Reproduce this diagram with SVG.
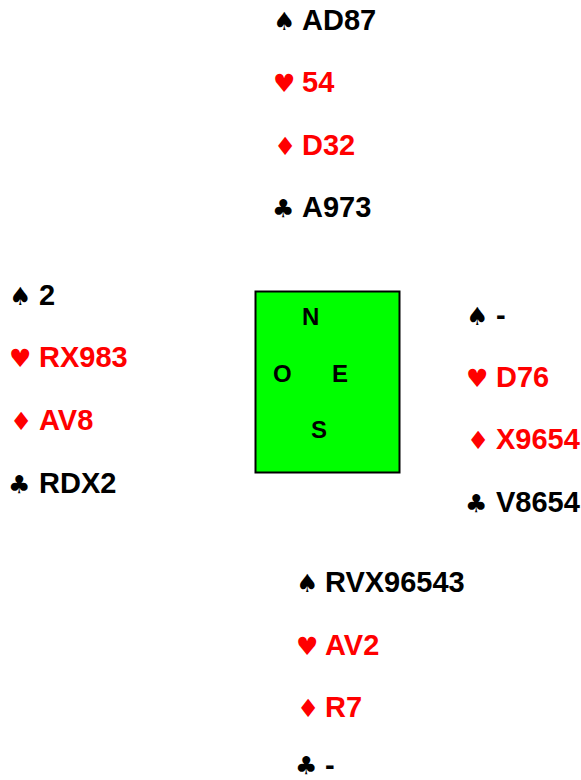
<svg xmlns="http://www.w3.org/2000/svg" width="581" height="780" viewBox="0 0 581 780">
<style>
.t{font-family:"Liberation Sans",Arial,sans-serif;font-weight:bold;font-size:29px}
.s{font-family:"DejaVu Sans",sans-serif;font-size:25px}
.b{fill:#000}
.r{fill:#ff0000}
.c{font-family:"Liberation Sans",Arial,sans-serif;font-weight:bold;font-size:24px;fill:#000}
</style>
<rect width="581" height="780" fill="#fff"/>
<g id="north">
<text class="s b" x="273" y="30">♠</text><text class="t b" x="302" y="30">AD87</text>
<text class="s r" x="273" y="92">♥</text><text class="t r" x="302" y="92">54</text>
<text class="s r" x="274" y="155">♦</text><text class="t r" x="302" y="155">D32</text>
<text class="s b" x="272" y="217">♣</text><text class="t b" x="302" y="217">A973</text>
</g>
<g id="west">
<text class="s b" x="9" y="305">♠</text><text class="t b" x="39" y="305">2</text>
<text class="s r" x="9" y="367">♥</text><text class="t r" x="39" y="367">RX983</text>
<text class="s r" x="10" y="430">♦</text><text class="t r" x="39" y="430">AV8</text>
<text class="s b" x="8" y="493">♣</text><text class="t b" x="39" y="493">RDX2</text>
</g>
<g id="east">
<text class="s b" x="466" y="325">♠</text><text class="t b" x="496" y="325">-</text>
<text class="s r" x="466" y="387">♥</text><text class="t r" x="496" y="387">D76</text>
<text class="s r" x="467" y="449">♦</text><text class="t r" x="496" y="449">X9654</text>
<text class="s b" x="465" y="512">♣</text><text class="t b" x="496" y="512">V8654</text>
</g>
<g id="south">
<text class="s b" x="296" y="592">♠</text><text class="t b" x="325" y="592">RVX96543</text>
<text class="s r" x="296" y="655">♥</text><text class="t r" x="325" y="655">AV2</text>
<text class="s r" x="297" y="717">♦</text><text class="t r" x="325" y="717">R7</text>
<text class="s b" x="295" y="774">♣</text><text class="t b" x="325" y="775">-</text>
</g>
<g id="table">
<rect x="255.5" y="291.5" width="144" height="181" fill="#00ff00" stroke="#000" stroke-width="2"/>
<text class="c" x="302" y="325">N</text>
<text class="c" x="273" y="382">O</text>
<text class="c" x="332" y="382">E</text>
<text class="c" x="311" y="438">S</text>
</g>
<g id="connectors"/>
</svg>
